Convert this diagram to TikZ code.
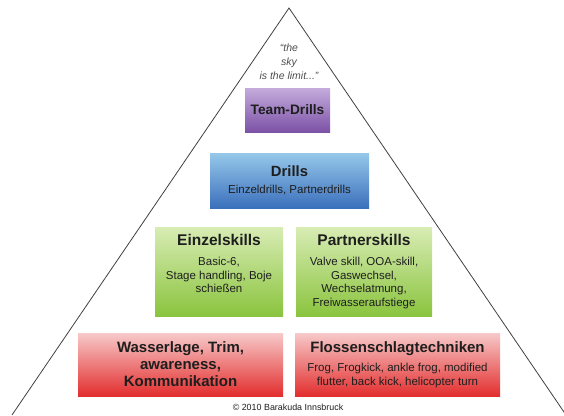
\documentclass[tikz,border=0pt]{standalone}
\usepackage{fontspec}
\setmainfont{Liberation Sans}
\usetikzlibrary{positioning}

\definecolor{lilaHell}{HTML}{C4ABDC}
\definecolor{lilaDunkel}{HTML}{7C52A6}
\definecolor{blauHell}{HTML}{96C8EA}
\definecolor{blauDunkel}{HTML}{3B70BC}
\definecolor{gruenHell}{HTML}{D8ECB4}
\definecolor{gruenDunkel}{HTML}{8AC43E}
\definecolor{rotHell}{HTML}{F7C9C9}
\definecolor{rotDunkel}{HTML}{E32E2E}
\definecolor{schrift}{HTML}{1E1E1E}

\newcommand{\titel}[1]{{\fontsize{15.5}{17}\selectfont\bfseries #1}}

\begin{document}
\begin{tikzpicture}[
    x=1pt,
    y=-1pt,
    stufe/.style={
        inner sep=0pt,
        align=center,
        text=schrift,
        font=\fontsize{11.5}{13.5}\selectfont
    },
    lila/.style={stufe, top color=lilaHell, bottom color=lilaDunkel},
    blau/.style={stufe, top color=blauHell, bottom color=blauDunkel},
    gruen/.style={stufe, top color=gruenHell, bottom color=gruenDunkel,
        minimum height=89pt},
    rot/.style={stufe, top color=rotHell, bottom color=rotDunkel,
        minimum width=205pt, minimum height=63pt},
    pyramide/.style={draw=black!75, line width=0.8pt}
]

\useasboundingbox (0,0) rectangle (564,415);

% Pyramide
\coordinate (spitze) at (289,8);
\coordinate (linksunten) at (12,415);
\coordinate (rechtsunten) at (566,415);
\draw[pyramide] (linksunten) -- (spitze) -- (rechtsunten);

\node[stufe, text=black!70, font=\itshape\fontsize{10.5}{14}\selectfont]
    (himmel) at (289,62) {``the\\ sky\\ is the limit...''};

% Stufen
\node[lila, minimum width=85pt, minimum height=44pt] (team) at (287.5,110)
    {{\fontsize{13.7}{15}\selectfont\bfseries Team-Drills}};

\node[blau, minimum width=159pt, minimum height=55pt] (drills) at (289.5,180.5)
    {{\fontsize{14.8}{15}\selectfont\bfseries Drills}\\[3.5pt]
     Einzeldrills, Partnerdrills};

\node[gruen, minimum width=128pt] (einzel) at (219,271.5) {};
\node[stufe, anchor=north, yshift=-7pt] (einzeltext) at (einzel.north)
    {\titel{Einzelskills}\\[7pt]
     Basic-6,\\ Stage handling, Boje\\ schießen};

\node[gruen, minimum width=136pt] (partner) at (364,271.5) {};
\node[stufe, anchor=north, yshift=-7pt] (partnertext) at (partner.north)
    {\titel{Partnerskills}\\[7pt]
     Valve skill, OOA-skill,\\ Gaswechsel,\\ Wechselatmung,\\ Freiwasseraufstiege};

\node[rot, font=\fontsize{15}{17}\selectfont\bfseries] (wasser) at (180.5,364.5)
    {Wasserlage, Trim,\\ awareness,\\ Kommunikation};

\node[rot, font=\fontsize{11.5}{14}\selectfont] (flossen) at (397.5,364.5)
    {{\fontsize{15}{17}\selectfont\bfseries Flossenschlagtechniken}\\[5pt]
     Frog, Frogkick, ankle frog, modified\\ flutter, back kick, helicopter turn};

\node[stufe, font=\fontsize{8.9}{10}\selectfont] (copyright) at (288,407)
    {© 2010 Barakuda Innsbruck};

\end{tikzpicture}
\end{document}
